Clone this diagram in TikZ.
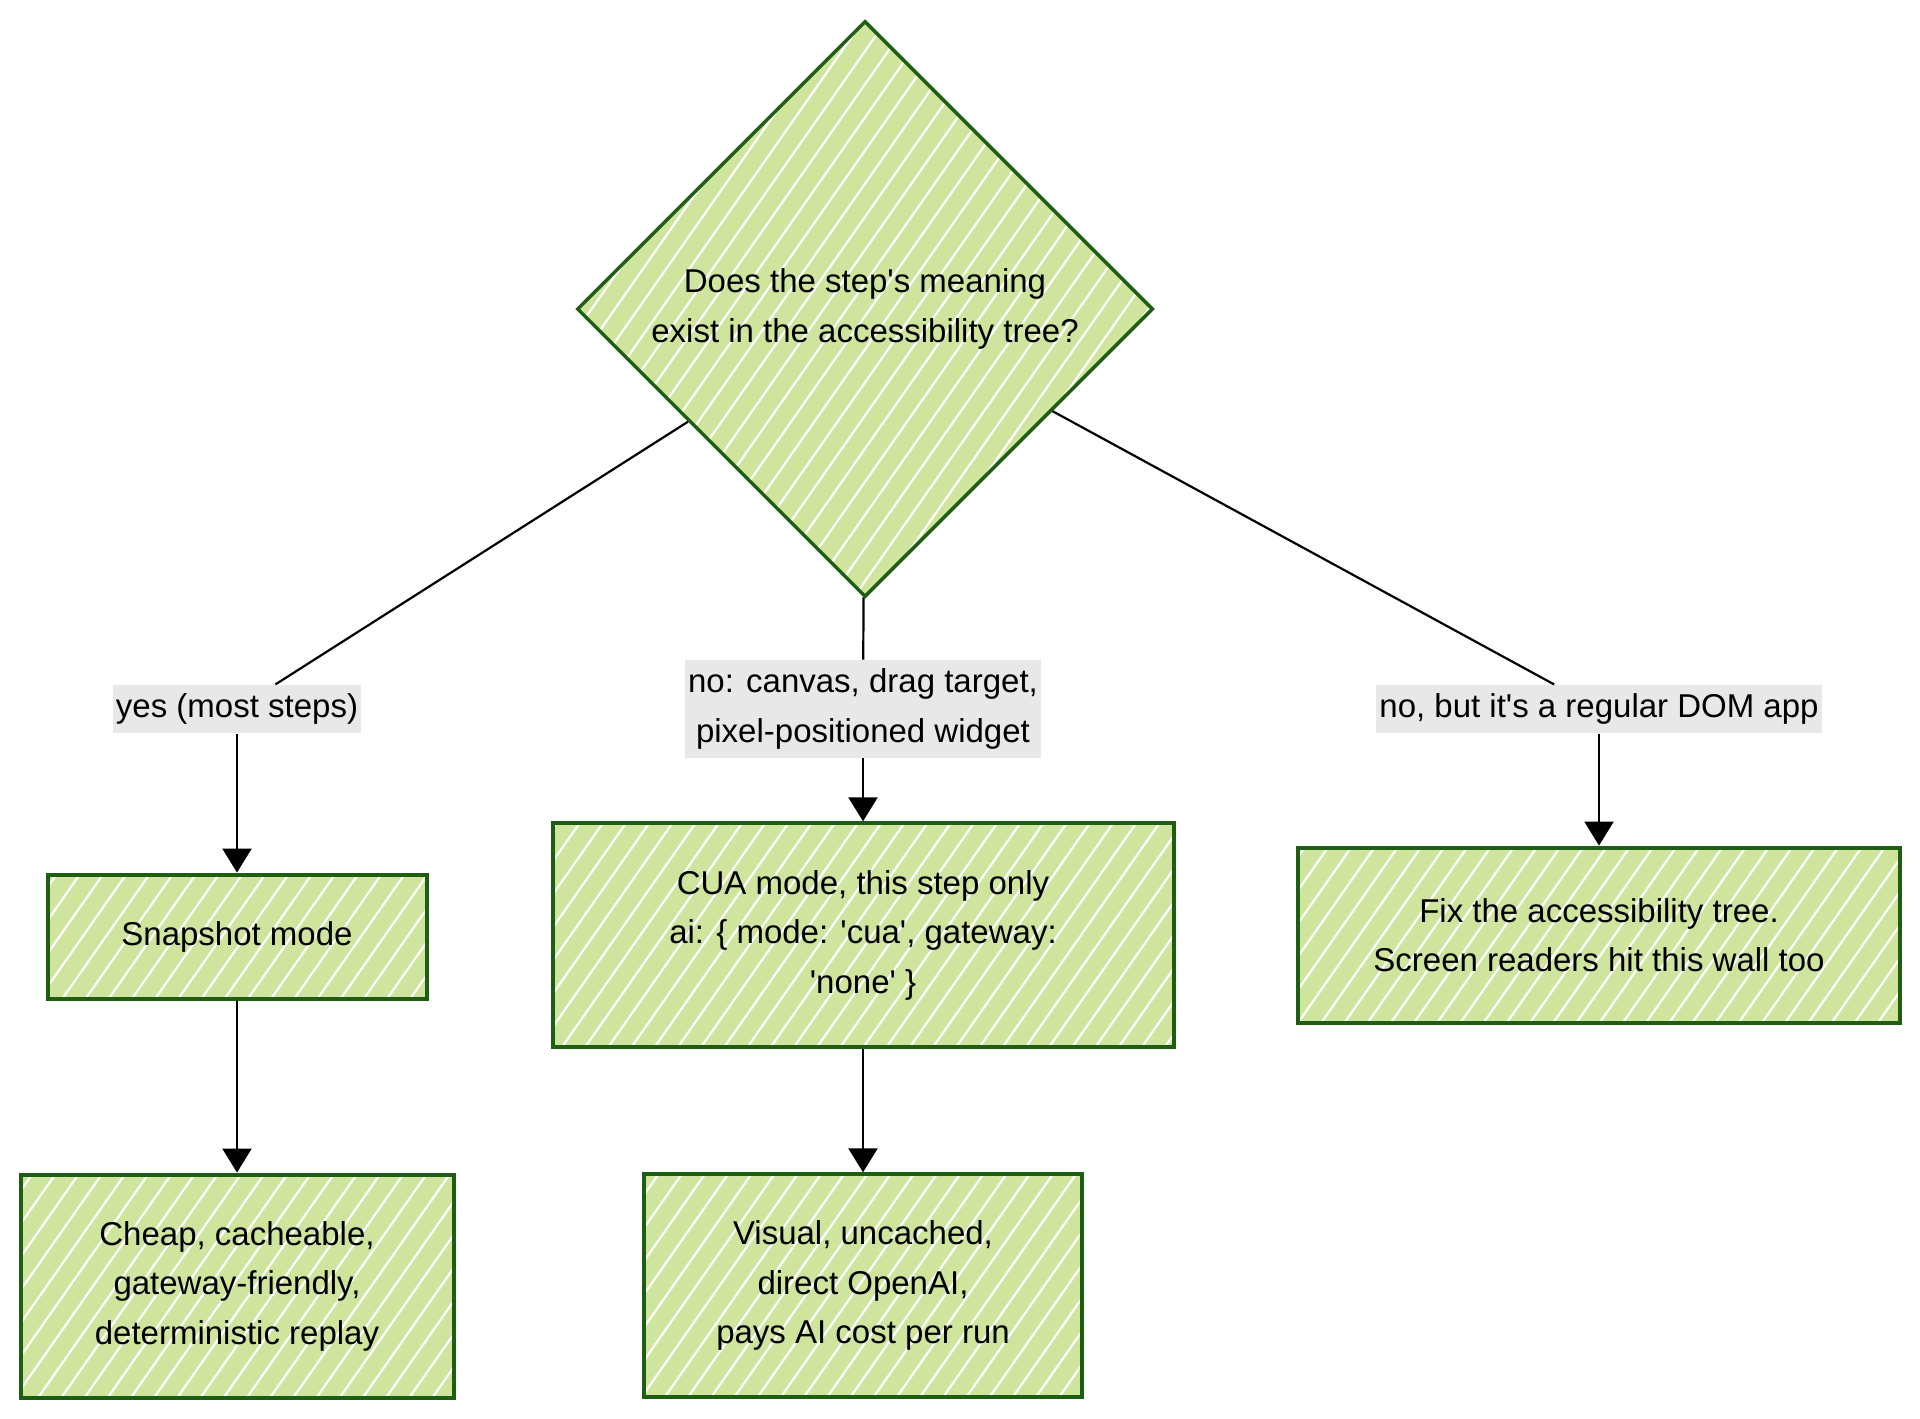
\documentclass[tikz,border=0pt]{standalone}
\usepackage{fontspec}
\setmainfont{Liberation Sans}[Ligatures=TeXOff]
\usepackage{tikz}
\usetikzlibrary{arrows.meta,positioning,shapes.geometric,patterns.meta}
\definecolor{sketchgreen}{HTML}{CFE49C}
\definecolor{sketchedge}{HTML}{1D5E12}
\definecolor{tagbg}{HTML}{E8E8E8}

\begin{document}
\begin{tikzpicture}[x=1pt,y=-1pt,
  txt/.style={font=\fontsize{33}{49.5}\selectfont,align=center},
  card/.style={txt,draw=sketchedge,line width=4pt,preaction={fill=sketchgreen},
    pattern={Lines[angle=55,distance=19pt,line width=2.2pt]},pattern color=white,inner sep=0pt},
  ask/.style={card,diamond,aspect=1,minimum width=576pt,minimum height=576pt,line width=3.5pt},
  tag/.style={txt,fill=tagbg,inner xsep=3pt,inner ysep=9pt},
  link/.style={line width=2.2pt},
  >={Triangle[width=29pt,length=24pt]}]
  \useasboundingbox (0,0) rectangle (1920,1419);
  \node[ask] (q) at (865,309) {Does the step's meaning\\exist in the accessibility tree?};
  % branch labels
  \node[tag] (yes) at (237,709) {yes (most steps)};
  \node[tag] (canvas) at (863,709) {no: canvas, drag target,\\pixel-positioned widget};
  \node[tag] (dom) at (1599,709) {no, but it's a regular DOM app};
  % outcomes
  \node[card,minimum width=379pt,minimum height=124pt,below=139pt of yes] (snap) {Snapshot mode};
  \node[card,minimum width=433pt,minimum height=223pt,below=172pt of snap] (cheap) {Cheap, cacheable,\\gateway-friendly,\\deterministic replay};
  \node[card,minimum width=621pt,minimum height=224pt,below=63pt of canvas] (cua) {CUA mode, this step only\\ai: \{ mode: 'cua', gateway:\\'none' \}};
  \node[card,minimum width=438pt,minimum height=223pt,below=123pt of cua] (visual) {Visual, uncached,\\direct OpenAI,\\pays AI cost per run};
  \node[card,minimum width=602pt,minimum height=175pt,below=112pt of dom] (fix) {Fix the accessibility tree.\\Screen readers hit this wall too};
  \draw[link] (q) -- (yes); \draw[link] (q) -- (canvas); \draw[link] (q) -- (dom);
  \draw[link,->] (yes) -- (snap); \draw[link,->] (snap) -- (cheap);
  \draw[link,->] (canvas) -- (cua); \draw[link,->] (cua) -- (visual);
  \draw[link,->] (dom) -- (fix);
\end{tikzpicture}
\end{document}
